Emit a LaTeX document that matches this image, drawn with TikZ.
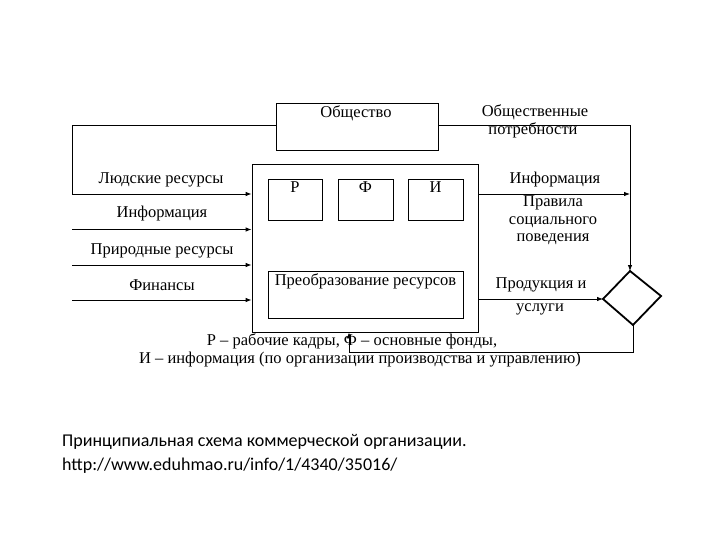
\documentclass[tikz,border=0pt]{standalone}
\usepackage{fontspec}
\setmainfont{Liberation Serif}
\newfontfamily\capfont{Carlito}
\usetikzlibrary{arrows.meta,shapes.geometric}
\begin{document}
\begin{tikzpicture}[x=1pt,y=-1pt,
  box/.style={draw,line width=0.8pt,inner sep=0pt},
  lbl/.style={font=\fontsize{16.5}{18}\selectfont,inner sep=0pt},
  captxt/.style={font=\capfont\fontsize{18}{20}\selectfont,inner sep=0pt,anchor=west},
  arr/.style={line width=0.8pt,-{Latex[length=6pt,width=4.5pt]}},
  ln/.style={line width=0.8pt}]
\useasboundingbox (0,0) rectangle (720,540);
% boxes
\node[box,minimum width=162pt,minimum height=47pt] (soc) at (357,126.5) {};
\node[lbl] at (356,113) {Общество};
\node[box,minimum width=226pt,minimum height=168pt] (org) at (365,248) {};
\node[box,minimum width=54pt,minimum height=41pt] (r) at (295,199.5) {};
\node[lbl] at (295,187) {Р};
\node[box,minimum width=55pt,minimum height=41pt] (f) at (365.5,199.5) {};
\node[lbl] at (365.5,187) {Ф};
\node[box,minimum width=55pt,minimum height=41pt] (i) at (435.5,199.5) {};
\node[lbl] at (435.5,187) {И};
\node[box,minimum width=195pt,minimum height=47pt] (pr) at (365.5,294.5) {};
\node[lbl] at (365.5,281) {Преобразование ресурсов};
% diamond
\coordinate (dt) at (630,271);
\coordinate (dl) at (603,299);
\coordinate (dr) at (661,296);
\coordinate (db) at (633,325);
\draw[line width=1.8pt,line join=miter] (dt) -- (dr) -- (db) -- (dl) -- cycle;
% left inputs
\coordinate (a0) at (72,125);
\coordinate (a1) at (72,194);
\coordinate (b1) at (72,229.5);
\coordinate (c1) at (72,265);
\coordinate (d1) at (72,300);
\draw[ln] (soc.west |- a0) -- (a0) -- (a1);
\draw[arr] (a1) -- (org.west |- a1);
\draw[arr] (b1) -- (org.west |- b1);
\draw[arr] (c1) -- (org.west |- c1);
\draw[arr] (d1) -- (org.west |- d1);
\node[lbl] at (161,180) {Людские ресурсы};
\node[lbl] at (162,214) {Информация};
\node[lbl] at (162,251) {Природные ресурсы};
\node[lbl] at (162,285) {Финансы};
% right side
\coordinate (e0) at (630,125);
\coordinate (e1) at (630,194);
\draw[ln] (soc.east |- e0) -- (e0) -- (e1);
\draw[arr] (e1) -- (dt);
\draw[arr] (org.east |- e1) -- (e1);
\draw[arr] (org.east |- dl) -- (dl);
\node[lbl] at (535,112) {Общественные};
\node[lbl] at (533,130) {потребности};
\node[lbl] at (555,180) {Информация};
\node[lbl] at (553,203) {Правила};
\node[lbl] at (553,222) {социального};
\node[lbl] at (553,239) {поведения};
\node[lbl] at (541,285) {Продукция и};
\node[lbl] at (540,309) {услуги};
% feedback
\coordinate (g0) at (633,352);
\coordinate (g1) at (349,352);
\draw[ln] (db) -- (g0) -- (g1);
\draw[arr] (g1) -- (g1 |- org.south);
\node[lbl] at (352,341) {Р -- рабочие кадры, Ф -- основные фонды,};
\node[lbl] at (360,360) {И -- информация (по организации производства и управлению)};
% caption
\node[captxt] at (62,442) {Принципиальная схема коммерческой организации.};
\node[captxt] at (62,466) {http://www.eduhmao.ru/info/1/4340/35016/};
\end{tikzpicture}
\end{document}
